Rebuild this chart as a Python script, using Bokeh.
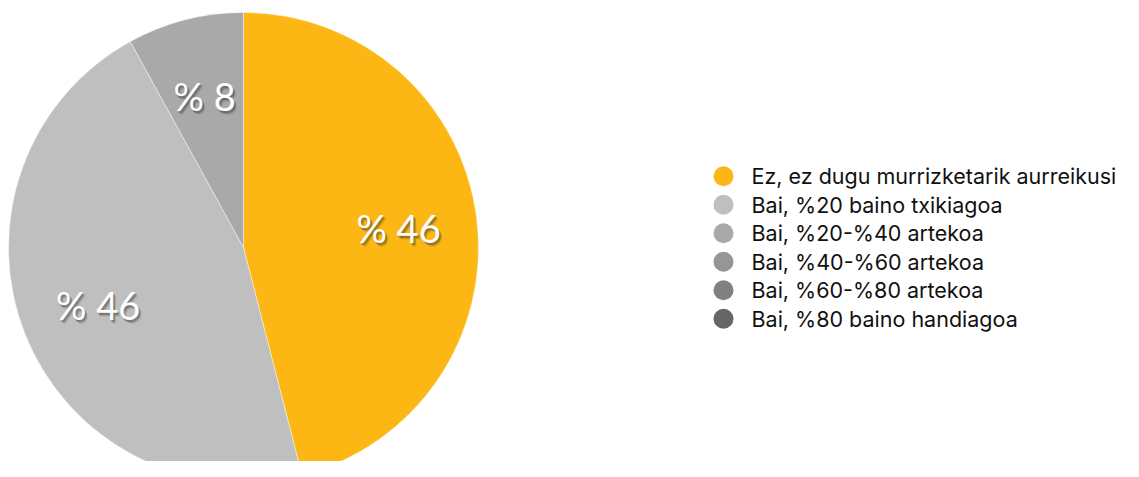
import numpy as np
from bokeh.plotting import figure
from bokeh.models import Range1d, ColumnDataSource
from bokeh.core.properties import value
from bokeh.embed import file_html
from bokeh.resources import INLINE

# ---- data ----
categories = [
    "Ez, ez dugu murrizketarik aurreikusi",
    "Bai, %20 baino txikiagoa",
    "Bai, %20-%40 artekoa",
    "Bai, %40-%60 artekoa",
    "Bai, %60-%80 artekoa",
    "Bai, %80 baino handiagoa",
]
values = [46, 46, 8, 0, 0, 0]
colors = ["#FDB714", "#BFBFBF", "#A9A9A9", "#969696", "#808080", "#666666"]

W, H = 1123, 461
p = figure(width=W, height=H, output_backend="svg", toolbar_location=None,
           x_range=Range1d(0, W), y_range=Range1d(0, H), min_border=0)
p.axis.visible = False
p.grid.visible = False
p.outline_line_color = None
p.background_fill_color = "white"


def sx(x):
    return x


def sy(y):
    return H - y


cx, cy, R = sx(243), sy(247), 235

v = np.array(values, dtype=float)
frac = v / v.sum()
cum = np.concatenate([[0], np.cumsum(frac)])
start = np.pi / 2 - cum[:-1] * 2 * np.pi
end = np.pi / 2 - cum[1:] * 2 * np.pi
mask = v > 0

src = ColumnDataSource(dict(start=start[mask], end=end[mask],
                            color=[c for c, m in zip(colors, mask) if m]))
p.wedge(x=cx, y=cy, radius=R, start_angle="start", end_angle="end",
        direction="clock", fill_color="color", line_color="white",
        line_width=0.6, line_alpha=0.7, source=src)

# slice labels
mid = np.pi / 2 - (cum[:-1] + cum[1:]) / 2 * 2 * np.pi
lr = 0.665 * R
lx = cx + lr * np.cos(mid[mask])
ly = cy + lr * np.sin(mid[mask])
labels = ["% " + str(int(x)) for x in v[mask]]
lsrc = ColumnDataSource(dict(x=lx, y=ly, t=labels))
for dx, dy, a in [(2, -3, 0.18), (1, -2, 0.25), (3, -4, 0.10), (2, -2, 0.2)]:
    p.text(x="x", y="y", text="t", source=lsrc, text_font=value("Lato"),
           text_font_size="38px", text_color="#333333", text_alpha=a,
           text_align="center", text_baseline="middle", x_offset=dx, y_offset=-dy)
p.text(x="x", y="y", text="t", source=lsrc, text_font=value("Lato"),
       text_font_size="38px", text_color="white",
       text_align="center", text_baseline="middle")

# legend
n = len(categories)
ly0, step = 175.7, 28.5
legy = [sy(ly0 + i * step) for i in range(n)]
p.scatter(x=[sx(723)] * n, y=legy, size=20, marker="circle",
          fill_color=colors, line_color=None)
p.text(x=[sx(751)] * n, y=legy, text=categories, text_font=value("Inter"),
       text_font_size="21.5px", text_color="#111111", text_baseline="middle",
       text_align="left")

open("out.html", "w").write(file_html(p, INLINE))
